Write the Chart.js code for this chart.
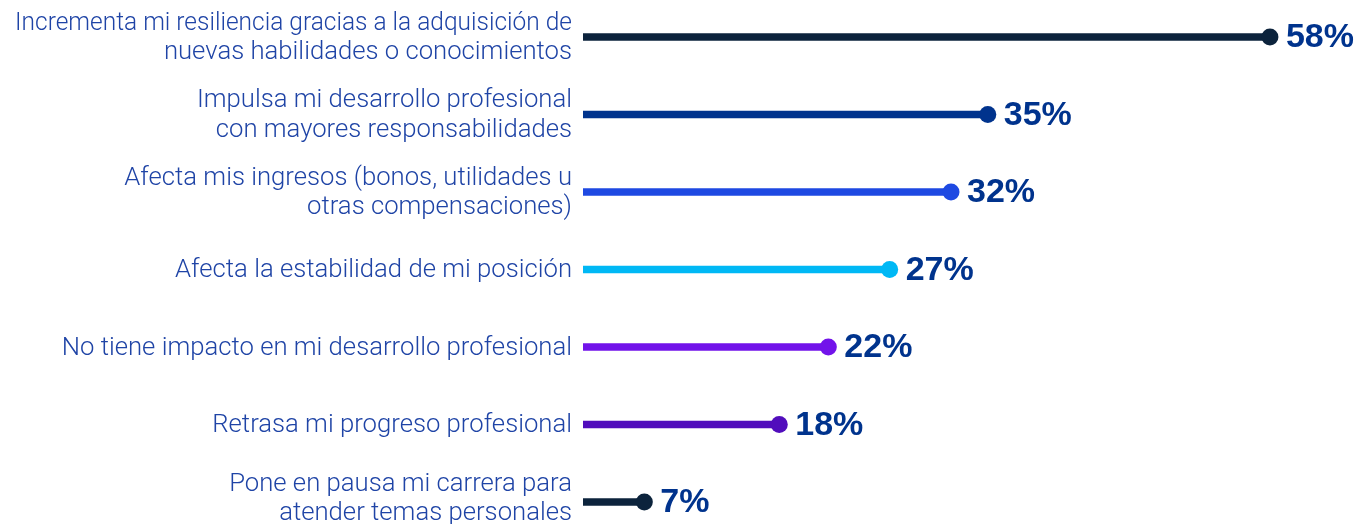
<!DOCTYPE html>
<html><head><meta charset="utf-8">
<script src="https://cdn.jsdelivr.net/npm/chart.js@4"></script>
<style>html,body{margin:0;padding:0;background:#fff}#wrap{width:1358px;height:524px;position:relative}</style>
</head><body><div id="wrap"><canvas id="c"></canvas></div>
<script>
const categories = [
  ["Incrementa mi resiliencia gracias a la adquisición de", "nuevas habilidades o conocimientos"],
  ["Impulsa mi desarrollo profesional", "con mayores responsabilidades"],
  ["Afecta mis ingresos (bonos, utilidades u", "otras compensaciones)"],
  ["Afecta la estabilidad de mi posición"],
  ["No tiene impacto en mi desarrollo profesional"],
  ["Retrasa mi progreso profesional"],
  ["Pone en pausa mi carrera para", "atender temas personales"]
];
const values = [58, 35, 32, 27, 22, 18, 7];
const colors = ["#0c233c", "#00338d", "#1e49e2", "#00b8f5", "#7213ea", "#510dbc", "#0c233c"];
const valueLabels = ["58%", "35%", "32%", "27%", "22%", "18%", "7%"];

const LABEL_RIGHT = 572, LABEL_MAXW = 557, LINE_H = 29.5, BASE_SHIFT = 7.5;

const categoryLabelPlugin = {
  id: 'categoryLabels',
  afterDraw(chart) {
    const ctx = chart.ctx;
    const ys = chart.scales.y;
    ctx.save();
    ctx.font = '300 25.7px Roboto, "Liberation Sans", sans-serif';
    ctx.fillStyle = '#1f44a6';
    ctx.textAlign = 'right';
    ctx.textBaseline = 'alphabetic';
    categories.forEach((lines, i) => {
      const yc = ys.getPixelForValue(i);
      let first = yc + BASE_SHIFT - (lines.length - 1) * LINE_H / 2;
      const last = first + (lines.length - 1) * LINE_H;
      const over = last + 4 - chart.height;
      if (over > 0) first -= over;
      lines.forEach((t, k) => {
        ctx.fillText(t, LABEL_RIGHT, first + k * LINE_H, LABEL_MAXW);
      });
    });
    ctx.restore();
  }
};

const valueLabelPlugin = {
  id: 'valueLabels',
  afterDatasetsDraw(chart) {
    const ctx = chart.ctx;
    const meta = chart.getDatasetMeta(1);
    ctx.save();
    ctx.font = 'bold 34px "Liberation Sans", Arial, sans-serif';
    ctx.fillStyle = '#00338d';
    ctx.textAlign = 'left';
    ctx.textBaseline = 'middle';
    meta.data.forEach((pt, i) => {
      ctx.fillText(valueLabels[i], pt.x + 16, pt.y + 1);
    });
    ctx.restore();
  }
};

new Chart(document.getElementById('c'), {
  type: 'bar',
  data: {
    labels: categories.map(l => l.join(' ')),
    datasets: [
      {
        type: 'bar',
        data: values,
        backgroundColor: colors,
        barThickness: 7,
        clip: { left: 0, top: false, right: false, bottom: false },
        order: 2
      },
      {
        type: 'line',
        data: values,
        showLine: false,
        pointRadius: 8.5,
        pointHoverRadius: 8.5,
        pointBackgroundColor: colors,
        pointBorderWidth: 0,
        clip: false,
        order: 1
      }
    ]
  },
  options: {
    indexAxis: 'y',
    responsive: true,
    maintainAspectRatio: false,
    animation: false,
    layout: { padding: { top: 37, bottom: 22, left: 583, right: 39 } },
    plugins: { legend: { display: false }, tooltip: { enabled: false } },
    scales: {
      x: { min: 2, max: 62, display: false, grid: { display: false } },
      y: { offset: false, display: false, grid: { display: false } }
    }
  },
  plugins: [valueLabelPlugin, categoryLabelPlugin]
});
</script>
</body></html>
